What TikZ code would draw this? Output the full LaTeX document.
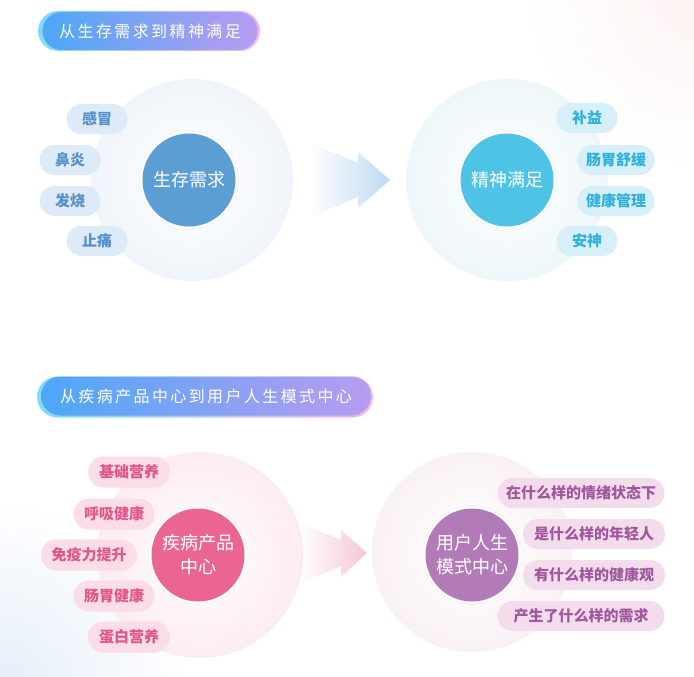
\documentclass[tikz,border=0pt]{standalone}
\usepackage{fontspec}
\newfontfamily\cjk{Noto Sans CJK SC}
\newfontfamily\cjkls[LetterSpace=15]{Noto Sans CJK SC}
\usetikzlibrary{shapes.misc,fadings}
\definecolor{bannerL}{HTML}{4DA7F7}
\definecolor{bannerR}{HTML}{B89CF2}
\definecolor{bannerEdgeL}{HTML}{7FDDF4}
\definecolor{bannerEdgeR}{HTML}{F0B8E8}
\definecolor{hubA}{HTML}{5A9ED4}
\definecolor{hubB}{HTML}{4FC3E6}
\definecolor{hubC}{HTML}{EB6593}
\definecolor{hubD}{HTML}{B27BB8}
\definecolor{pillAbg}{HTML}{DDEAF7}
\definecolor{pillAtx}{HTML}{5690CB}
\definecolor{pillBbg}{HTML}{D6EFF8}
\definecolor{pillBtx}{HTML}{2FB1DD}
\definecolor{pillCbg}{HTML}{FBDDE7}
\definecolor{pillCtx}{HTML}{E1568A}
\definecolor{pillDbg}{HTML}{F3DDEC}
\definecolor{pillDtx}{HTML}{A1579E}
\definecolor{outerA}{HTML}{F0F5FB}
\definecolor{outerB}{HTML}{EEF7FA}
\definecolor{outerC}{HTML}{FCECF1}
\definecolor{outerD}{HTML}{FAF1F5}
\definecolor{arrowA}{HTML}{BFDAF2}
\definecolor{arrowB}{HTML}{F7C6D6}
\definecolor{tintBL}{HTML}{E4EEF9}
\definecolor{tintTR}{HTML}{FDF4F3}
\tikzset{
  banner/.style={rounded rectangle, inner sep=0pt, minimum height=38pt, left color=bannerL, right color=bannerR, text=white, font=\cjkls\fontsize{16}{16}\selectfont},
  bannerback/.style={rounded rectangle, inner sep=0pt, minimum height=40pt, left color=bannerEdgeL, right color=bannerEdgeR},
  pill/.style={rounded rectangle, inner sep=0pt, minimum height=30pt, font=\cjk\bfseries\fontsize{15}{15}\selectfont},
  pillA/.style={pill, fill=pillAbg, text=pillAtx},
  pillB/.style={pill, fill=pillBbg, text=pillBtx},
  pillC/.style={pill, fill=pillCbg, text=pillCtx},
  pillD/.style={pill, fill=pillDbg, text=pillDtx},
  hub/.style={circle, minimum size=93pt, inner sep=0pt, text=white, align=center, font=\cjk\fontsize{18}{24}\selectfont},
  ring/.style={circle, minimum size=99pt, inner sep=0pt, fill=white, draw=black!6, line width=0.6pt},
  outer/.style={circle, minimum size=202pt, inner sep=0pt},
}
\begin{document}
\begin{tikzpicture}[x=1pt,y=-1pt]
\useasboundingbox (0,0) rectangle (694,677);
\fill[white] (0,0) rectangle (694,677);
% soft background tints
\begin{scope}
\clip (0,0) rectangle (694,677);
\shade[inner color=tintBL, outer color=white] (0,690) circle (190pt);
\shade[inner color=tintTR, outer color=white] (694,0) circle (170pt);
\end{scope}

% ===== Section 1 =====
\node[bannerback, minimum width=222pt] (bb1) at (149,31) {};
\node[banner, minimum width=215pt] (b1) at (150,31) {从生存需求到精神满足};

\node[outer, inner color=white, outer color=outerA] (o1) at (192,180) {};
\node[outer, inner color=white, outer color=outerB] (o2) at (507,180) {};

\fill[arrowA, path fading=west] (310,143) -- (358,163) -- (358,152) -- (390,180) -- (358,208) -- (358,197) -- (310,217) -- cycle;

\node[ring] (r1) at (189,180) {};
\node[hub, fill=hubA] (h1) at (189,180) {生存需求};
\node[ring] (r2) at (507,180) {};
\node[hub, fill=hubB] (h2) at (507,180) {精神满足};

\node[pillA, minimum width=61pt] (a1) at (97,119) {感冒};
\node[pillA, minimum width=61pt] (a2) at (70,160) {鼻炎};
\node[pillA, minimum width=61pt] (a3) at (70,201) {发烧};
\node[pillA, minimum width=61pt] (a4) at (97,241) {止痛};

\node[pillB, minimum width=61pt] (c1) at (587,118) {补益};
\node[pillB, minimum width=77pt] (c2) at (616,160) {肠胃舒缓};
\node[pillB, minimum width=77pt] (c3) at (616,201) {健康管理};
\node[pillB, minimum width=61pt] (c4) at (587,241) {安神};

% ===== Section 2 =====
\node[bannerback, minimum width=336pt, minimum height=41pt] (bb2) at (205,397) {};
\node[banner, minimum width=330pt, minimum height=39pt] (b2) at (206,396) {从疾病产品中心到用户人生模式中心};

\node[outer, minimum size=206pt, inner color=white, outer color=outerC] (o3) at (200,555) {};
\node[outer, minimum size=200pt, inner color=white, outer color=outerD] (o4) at (472,552) {};

\fill[arrowB, path fading=west] (300,523) -- (341,540) -- (341,530) -- (367,553) -- (341,577) -- (341,566) -- (300,583) -- cycle;

\node[ring] (r3) at (198,555) {};
\node[hub, fill=hubC] (h3) at (198,555) {疾病产品\\中心};
\node[ring] (r4) at (472,555) {};
\node[hub, fill=hubD] (h4) at (472,555) {用户人生\\模式中心};

\node[pillC, minimum width=82pt, minimum height=31pt] (p1) at (129,472) {基础营养};
\node[pillC, minimum width=81pt, minimum height=31pt] (p2) at (114,514) {呼吸健康};
\node[pillC, minimum width=96pt, minimum height=31pt] (p3) at (89,555) {免疫力提升};
\node[pillC, minimum width=81pt, minimum height=31pt] (p4) at (114,596) {肠胃健康};
\node[pillC, minimum width=82pt, minimum height=31pt] (p5) at (129,637) {蛋白营养};

\node[pillD, minimum width=167pt] (q1) at (581,493) {在什么样的情绪状态下};
\node[pillD, minimum width=142pt] (q2) at (594,534) {是什么样的年轻人};
\node[pillD, minimum width=142pt] (q3) at (594,575) {有什么样的健康观};
\node[pillD, minimum width=167pt] (q4) at (581,616) {产生了什么样的需求};
\end{tikzpicture}
\end{document}
